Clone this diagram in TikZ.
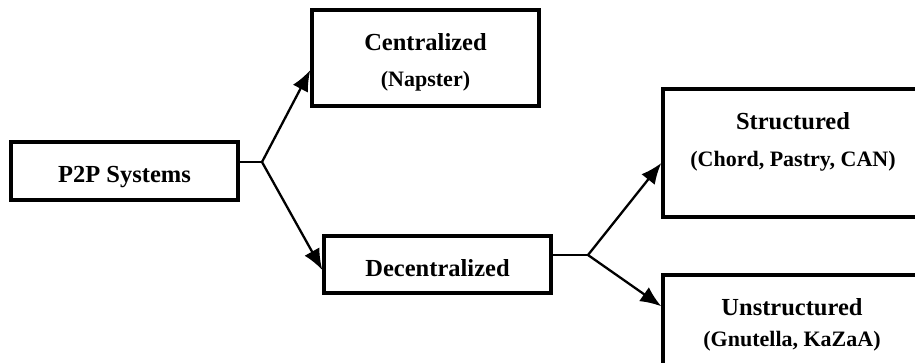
\documentclass[tikz,border=0pt]{standalone}
\usepackage{fontspec}
\setmainfont{Liberation Serif}
\usetikzlibrary{arrows.meta}
\begin{document}
\begin{tikzpicture}[x=1pt,y=-1pt,
  box/.style={draw, line width=3.4pt, rectangle, inner sep=0pt},
  title/.style={font=\bfseries\fontsize{24.5}{28}\selectfont, inner sep=0pt, anchor=base},
  sub/.style={font=\bfseries\fontsize{22}{26}\selectfont, inner sep=0pt, anchor=base},
  conn/.style={line width=2.3pt},
  arr/.style={conn, -{Latex[length=21pt,width=17pt]}}]
\useasboundingbox (0,0) rectangle (915,362);
\clip (0,0) rectangle (915,362);
% boxes
\node[box, minimum width=227pt, minimum height=58pt] (p2p) at (124.5,171) {};
\node[box, minimum width=227pt, minimum height=96pt] (cen) at (425.5,58) {};
\node[box, minimum width=227pt, minimum height=57pt] (dec) at (437.5,264.5) {};
\node[box, minimum width=260pt, minimum height=128pt] (str) at (793,153) {};
\node[box, minimum width=260pt, minimum height=110pt] (uns) at (793,330) {};
% texts
\node[title] (t1) at (124.5,182) {P2P Systems};
\node[title] (t2) at (425.5,50) {Centralized};
\node[sub]   (t3) at (425.5,86) {(Napster)};
\node[title] (t4) at (437.5,276) {Decentralized};
\node[title] (t5) at (793,129) {Structured};
\node[sub]   (t6) at (793,166) {(Chord, Pastry, CAN)};
\node[title] (t7) at (792,315) {Unstructured};
\node[sub]   (t8) at (792,346) {(Gnutella, KaZaA)};
% connectors
\coordinate (b1) at (262,162);
\coordinate (b2) at (588,255);
\draw[conn] (p2p.east |- b1) -- (b1);
\draw[arr] (b1) -- ([yshift=-12pt]cen.west);
\draw[arr] (b1) -- ([yshift=-5.5pt]dec.west);
\draw[conn] (dec.east |- b2) -- (b2);
\draw[arr] (b2) -- ([yshift=-10pt]str.west);
\draw[arr] (b2) -- ([yshift=-33pt]uns.north west);
\end{tikzpicture}
\end{document}
